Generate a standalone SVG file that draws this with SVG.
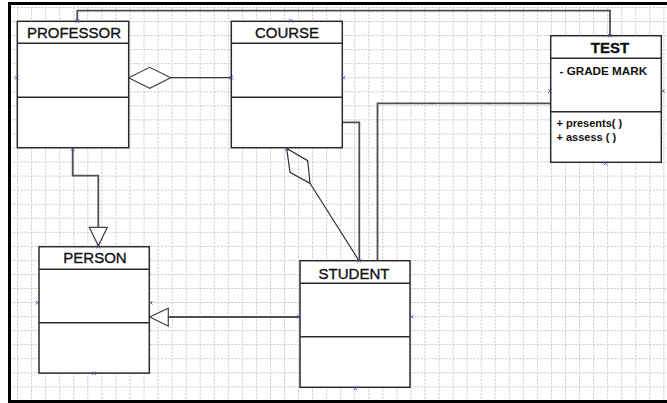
<svg xmlns="http://www.w3.org/2000/svg" width="667" height="403" viewBox="0 0 667 403">
<style>
.box{fill:#fff;stroke:#2a2a2a;stroke-width:1.5}
.sep{stroke:#2a2a2a;stroke-width:1.5}
.title{font-family:"Liberation Sans",Arial,sans-serif;font-size:15px;fill:#111;stroke:#111;stroke-width:0.35;text-anchor:middle}
.attr{font-family:"Liberation Sans",Arial,sans-serif;font-weight:bold;fill:#111}
.conn{fill:none;stroke:#505050;stroke-width:1.8}
.thin{fill:none;stroke:#333;stroke-width:1.2}
.head{fill:#fff;stroke:#444;stroke-width:1.2}
.port{fill:none;stroke:#4848a8;stroke-width:0.9}
</style>
<defs>
<pattern id="grid" patternUnits="userSpaceOnUse" x="3" y="7" width="14.05" height="14.05">
<path d="M0.5 0V14.05M0 0.5H14.05" stroke="#c2c2c2" stroke-width="1" stroke-dasharray="2 1.5" fill="none"/>
</pattern>
<path id="x" d="M-1.8 -1.8L1.8 1.8M-1.8 1.8L1.8 -1.8" class="port"/>
</defs>
<rect x="0" y="0" width="667" height="403" fill="#fff"/>
<rect x="10" y="4" width="657" height="397" fill="url(#grid)"/>
<path d="M9.5 403V3.5H667M9.5 401.5H667" fill="none" stroke="#000" stroke-width="3"/>

<g id="connectors">
<path class="conn" d="M77.3 21V10.7H610V35.7"/>
<path class="thin" d="M170.7 77.7H231.3"/>
<polygon class="head" points="128.7,77.7 149.7,67.3 170.7,77.7 149.7,88.3"/>
<path class="conn" d="M72.7 148V175.7H98.3V227.3"/>
<polygon class="head" points="89.3,227.3 107.3,227.3 98.3,245.8"/>
<path class="conn" d="M300 317H168.3"/>
<polygon class="head" points="168.3,308.3 168.3,326 149.7,317"/>
<polygon class="thin" points="286.7,148.5 290,172.3 310,183.3 307.7,160.7"/>
<path class="thin" d="M310 183.3L359 260.7"/>
<path class="conn" d="M342.5 122.3H359.3V260.7"/>
<path class="conn" d="M550.7 103.3H377.5V260.7"/>
</g>

<g id="professor">
<rect class="box" x="17.3" y="21.3" width="111.4" height="126.4"/>
<path class="sep" d="M17.3 43.3H128.7M17.3 97.3H128.7"/>
<text class="title" x="74" y="37.5">PROFESSOR</text>
</g>

<g id="course">
<rect class="box" x="231.3" y="21.3" width="111" height="126.4"/>
<path class="sep" d="M231.3 43.3H342.3M231.3 97.3H342.3"/>
<text class="title" x="287" y="37.5">COURSE</text>
</g>

<g id="test">
<rect class="box" x="550.7" y="35.7" width="110.6" height="126.6"/>
<path class="sep" d="M550.7 58.3H661.3M550.7 111.7H661.3"/>
<text class="title" x="610" y="53" font-weight="bold" stroke-width="0">TEST</text>
<text class="attr" x="559.5" y="75" font-size="11.7">- GRADE MARK</text>
<text class="attr" x="556.5" y="127" font-size="11">+ presents( )</text>
<text class="attr" x="556.5" y="141" font-size="11">+ assess ( )</text>
</g>

<g id="person">
<rect class="box" x="39" y="246.7" width="110.3" height="126.4"/>
<path class="sep" d="M39 269.3H149.3M39 322.7H149.3"/>
<text class="title" x="95" y="263">PERSON</text>
</g>

<g id="student">
<rect class="box" x="300" y="260.7" width="110" height="126.6"/>
<path class="sep" d="M300 283.3H410M300 336.7H410"/>
<text class="title" x="354" y="278.5">STUDENT</text>
</g>

<g id="ports">
<use href="#x" x="77.3" y="21"/>
<use href="#x" x="16.7" y="77.7"/>
<use href="#x" x="72.7" y="149"/>
<use href="#x" x="290.7" y="20.7"/>
<use href="#x" x="343.3" y="77.7"/>
<use href="#x" x="231.3" y="77.7"/>
<use href="#x" x="286.7" y="149"/>
<use href="#x" x="610" y="35.7"/>
<use href="#x" x="550" y="91"/>
<use href="#x" x="662.7" y="91"/>
<use href="#x" x="605.7" y="163.3"/>
<use href="#x" x="98.3" y="246.5"/>
<use href="#x" x="37.7" y="302.7"/>
<use href="#x" x="150.7" y="302.7"/>
<use href="#x" x="94" y="373.3"/>
<use href="#x" x="359" y="260.7"/>
<use href="#x" x="299" y="316.7"/>
<use href="#x" x="411.7" y="316.7"/>
<use href="#x" x="355.3" y="388.3"/>
</g>
</svg>
